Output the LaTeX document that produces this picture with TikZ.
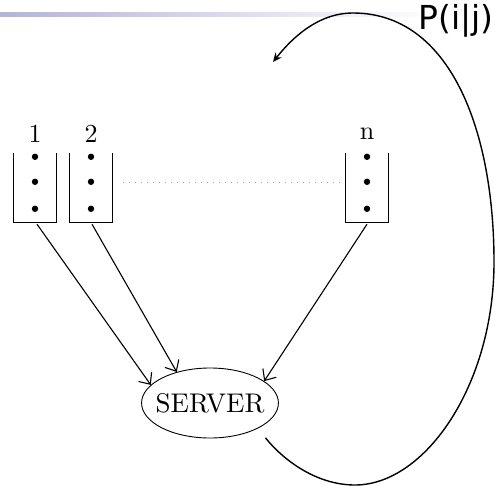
\documentclass[tikz,border=0pt]{standalone}
\usepackage{fontspec}
\newfontfamily\labelfont{DejaVu Sans}
\newfontfamily\tenfont{lmroman10-regular.otf}
\usetikzlibrary{shapes.geometric,arrows.meta,calc}

\definecolor{barcol}{RGB}{180,180,214}
\definecolor{dotgray}{RGB}{170,170,170}

\tikzset{
  queuebox/.style={minimum width=43pt, minimum height=69pt, inner sep=0pt},
  queuewall/.style={line width=1.3pt},
  qlabel/.style={font=\tenfont\fontsize{26}{26}\selectfont, inner sep=0pt},
  server/.style={ellipse, draw, line width=0.9pt, minimum width=134pt, minimum height=70pt,
    inner xsep=-6pt, inner ysep=0pt, font=\tenfont\fontsize{27}{27}\selectfont},
  feed/.style={line width=1.1pt, -{Straight Barb[length=9pt,width=16pt,line width=1.1pt]}},
  loop/.style={line width=1.4pt, -{Stealth[length=9pt,width=8pt]}}
}

\begin{document}
\begin{tikzpicture}[x=1pt, y=-1pt]
  \useasboundingbox (0,0) rectangle (495,485);

  % header rule fading to the right
  \shade[left color=barcol, right color=white] (0,12) rectangle (440,16);

  % queues
  \node[queuebox] (q1) at (35,187.5) {};
  \node[queuebox] (q2) at (91,187.5) {};
  \node[queuebox] (qn) at (367,187.5) {};
  \foreach \q in {q1,q2,qn} {
    \draw[queuewall] (\q.north west) -- (\q.south west) -- (\q.south east) -- (\q.north east);
    \foreach \d in {4,29,56}
      \fill ($(\q.north)+(0,\d)$) circle (3.2pt);
  }

  % queue labels
  \node[qlabel] (l1) at (35,134) {1};
  \node[qlabel] (l2) at (91,134) {2};
  \node[qlabel] (ln) at (367,134) {n};

  % ellipsis between queues
  \draw[dotgray, line width=0.8pt, dash pattern=on 1pt off 5pt]
    ($(q2.east)+(10,-5)$) -- ($(qn.west)+(-6,-5)$);

  % server
  \node[server] (srv) at (210,403) {SERVER};

  % queues feed the server
  \draw[feed] ($(q1.south)+(2,2)$) -- (srv.163);
  \draw[feed] ($(q2.south)+(1,2)$) -- (srv.137);
  \draw[feed] ($(qn.south)+(0,2)$) -- (srv.22);

  % routing back to the queues
  \coordinate (back) at (273,62);
  \draw[loop, shorten <=12pt] (srv.-28)
    .. controls (285,462) and (318,485) .. (355,485)
    .. controls (425,485) and (494,385) .. (494,262)
    .. controls (494,130) and (450,13) .. (353,13)
    .. controls (318,13) and (292,38) .. (back);

  \node[font=\labelfont\fontsize{33}{33}\selectfont, inner sep=0pt, anchor=north east] (pij) at (494,4) {P(i|j)};
\end{tikzpicture}
\end{document}
